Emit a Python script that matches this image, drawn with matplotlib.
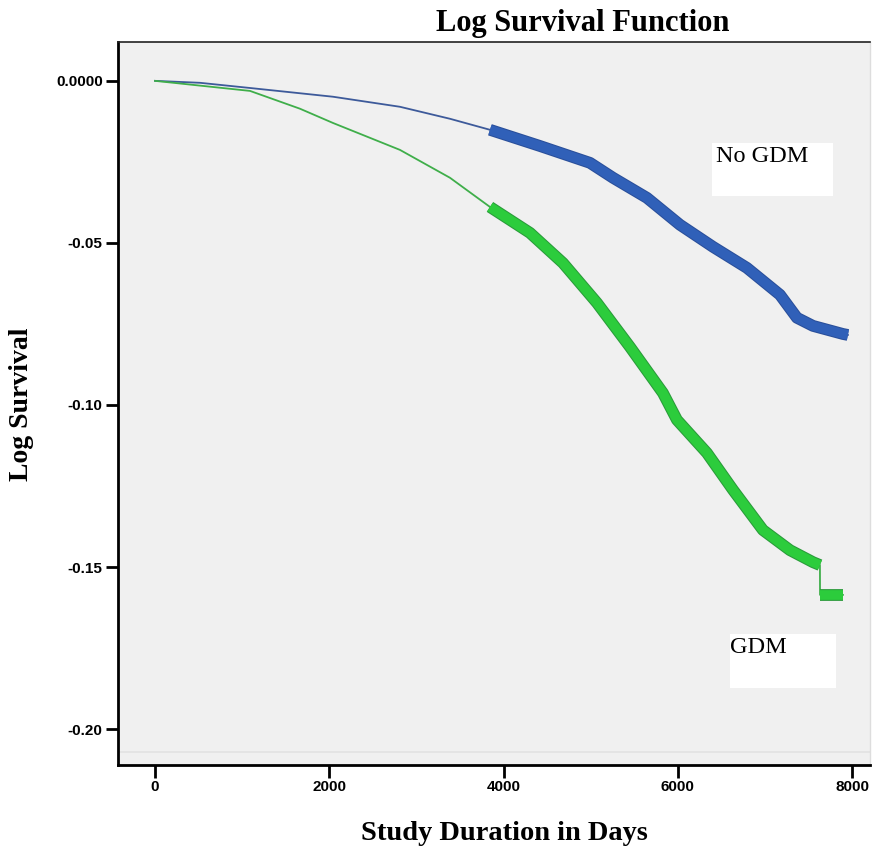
import matplotlib
matplotlib.use("Agg")
import matplotlib.pyplot as plt
import matplotlib.patheffects as pe
import numpy as np

# Data
no_gdm_days = [0, 516, 1090, 2043, 2811, 3385, 3844, 4418, 4992, 5256, 5646, 6024,
               6403, 6793, 7172, 7367, 7551, 7895, 7952]
no_gdm_logsurv = [0.0, -0.0006, -0.0022, -0.0049, -0.0080, -0.0117, -0.0151, -0.0201,
                  -0.0253, -0.0299, -0.0361, -0.0444, -0.0512, -0.0577, -0.0660,
                  -0.0731, -0.0756, -0.0781, -0.0784]
gdm_days = [0, 1090, 1664, 2043, 2811, 3385, 3844, 4303, 4682, 5072, 5451, 5829, 5990,
            6334, 6633, 6977, 7287, 7551, 7631, 7632, 7895]
gdm_logsurv = [0.0, -0.0031, -0.0086, -0.0130, -0.0213, -0.0299, -0.0389, -0.0469,
               -0.0562, -0.0685, -0.0821, -0.0963, -0.1046, -0.1148, -0.1262, -0.1386,
               -0.1448, -0.1485, -0.1494, -0.1586, -0.1586]
xticks = [0, 2000, 4000, 6000, 8000]
yticks = [0.0, -0.05, -0.10, -0.15, -0.20]
ytick_labels = ["0.0000", "-0.05", "-0.10", "-0.15", "-0.20"]
dense_start = 3800

fig = plt.figure(figsize=(8.85, 8.46), dpi=100)
ax = fig.add_axes([0.1333, 0.0957, 0.983 - 0.1333, 0.9504 - 0.0957])
ax.set_facecolor("#f0f0f0")

def draw(days, vals, thin_color, thick_color, edge, drop_at=None):
    d = np.array(days); v = np.array(vals)
    ax.plot(d, v, color=thin_color, lw=1.3, zorder=3)
    m = d >= dense_start
    dd, vv = d[m], v[m]
    segs = [(dd, vv)]
    if drop_at is not None:
        k = np.searchsorted(dd, drop_at)
        segs = [(dd[:k], vv[:k]), (dd[k:], vv[k:])]
    for sx, sy in segs:
        ax.plot(sx, sy, color=thick_color, lw=7, solid_capstyle="butt",
                solid_joinstyle="round",
                path_effects=[pe.Stroke(linewidth=8.5, foreground=edge), pe.Normal()],
                zorder=4)

draw(no_gdm_days, no_gdm_logsurv, "#3d5a9a", "#3060b8", "#2a4f9a")
draw(gdm_days, gdm_logsurv, "#3fae4a", "#2ccc3c", "#2a9a3a", drop_at=7632)

ax.set_xlim(-425, 8205)
ax.set_ylim(-0.2111, 0.012)
ax.axhline(-0.2071, color="#e2e2e2", lw=1.2, zorder=1)

ax.set_xticks(xticks)
ax.set_xticklabels([str(t) for t in xticks])
ax.set_yticks(yticks)
ax.set_yticklabels(ytick_labels)
ax.tick_params(axis="both", direction="out", length=9, width=2, color="black",
               labelsize=11, pad=2)
for lab in ax.get_xticklabels() + ax.get_yticklabels():
    lab.set_fontfamily("Liberation Sans")
    lab.set_fontweight("bold")

for s in ["left", "bottom"]:
    ax.spines[s].set_linewidth(2)
    ax.spines[s].set_color("black")
ax.spines["top"].set_linewidth(1.2)
ax.spines["top"].set_color("#222222")
ax.spines["right"].set_color("#dddddd")
ax.spines["right"].set_linewidth(1)

serif = "Liberation Serif"
fig.text(583 / 885, 1 - 24 / 846, "Log Survival Function", ha="center", va="center",
         fontsize=22, fontweight="bold", family=serif)
fig.text(504 / 885, 1 - 833 / 846, "Study Duration in Days", ha="center", va="center",
         fontsize=20.5, fontweight="bold", family=serif)
fig.text(22 / 885, 1 - 404 / 846, "Log Survival", ha="center", va="center",
         rotation=90, fontsize=20, fontweight="bold", family=serif)

# label boxes
ax.add_patch(plt.Rectangle((6392, -0.0355), 1388, 0.0164, fc="white", ec="none", zorder=4.5))
ax.add_patch(plt.Rectangle((6598, -0.1873), 1216, 0.0166, fc="white", ec="none", zorder=4.5))
ax.text(6440, -0.0200, "No GDM", ha="left", va="top", fontsize=17.5, family=serif,
        zorder=5)
ax.text(6598, -0.1716, "GDM", ha="left", va="top", fontsize=17.5, family=serif,
        zorder=5)

fig.savefig("out.png", dpi=100, facecolor="white")
